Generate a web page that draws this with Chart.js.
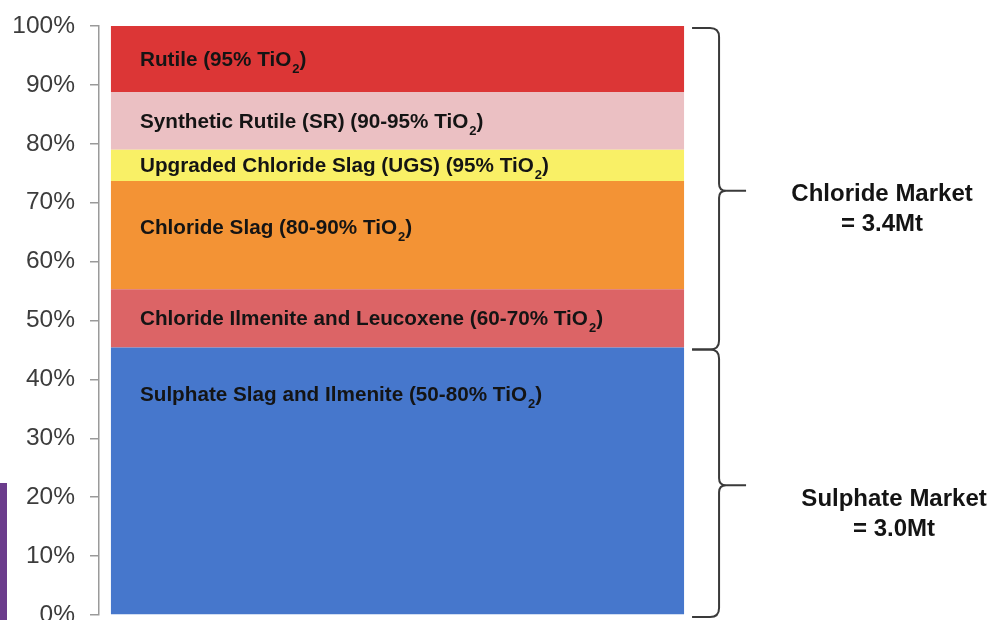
<!DOCTYPE html>
<html>
<head>
<meta charset="utf-8">
<script src="https://cdn.jsdelivr.net/npm/chart.js@4/dist/chart.umd.min.js"></script>
<style>
  html, body { margin: 0; padding: 0; background: #ffffff; }
  canvas { display: block; }
</style>
</head>
<body>
<canvas id="feedstock" width="1008" height="620"></canvas>
<script>
// TiO2 feedstock market split, stacked bottom to top (share of total, %)
const segmentNames = [
  'Sulphate Slag and Ilmenite',
  'Chloride Ilmenite and Leucoxene',
  'Chloride Slag',
  'Upgraded Chloride Slag (UGS)',
  'Synthetic Rutile (SR)',
  'Rutile'
];
const segmentGrades = ['50-80%', '60-70%', '80-90%', '95%', '90-95%', '95%'];
const segmentShares = [45.4, 9.9, 18.4, 5.3, 9.8, 11.2];
const segmentColors = ['#4677cc', '#dc6466', '#f39335', '#f9f066', '#ebc0c3', '#dc3636'];

// Market groupings: which segments (by index) each bracket spans
const marketNames = ['Sulphate Market', 'Chloride Market'];
const marketTonnes = [3.0, 3.4];
const marketSegments = [[0, 0], [1, 5]];

const yTicks = [0, 10, 20, 30, 40, 50, 60, 70, 80, 90, 100];

const FONT = '"Liberation Sans", Arial, Helvetica, sans-serif';

// Per-market text placement beside its bracket
const marketTextStyle = [
  { dx: 210, dy: 16 },
  { dx: 198, dy: 6 }
];

const datasets = segmentShares.map((v, i) => ({
  label: segmentNames[i],
  data: [v],
  backgroundColor: segmentColors[i],
  borderWidth: 0,
  barPercentage: 0.96,
  categoryPercentage: 1.0
}));

// Labels inside each segment, with a subscripted "2" in TiO2
const segmentLabels = {
  id: 'segmentLabels',
  afterDatasetsDraw(chart) {
    const ctx = chart.ctx;
    ctx.save();
    ctx.fillStyle = '#141414';
    ctx.textAlign = 'left';
    ctx.textBaseline = 'alphabetic';
    segmentNames.forEach((name, i) => {
      const el = chart.getDatasetMeta(i).data[0];
      const top = Math.min(el.y, el.base);
      const bottom = Math.max(el.y, el.base);
      const mid = Math.min((top + bottom) / 2, top + 46);
      let x = el.x - el.width / 2 + 29;
      const base = mid + 7;
      const head = name + ' (' + segmentGrades[i] + ' TiO';
      ctx.font = 'bold 20.7px ' + FONT;
      ctx.fillText(head, x, base);
      x += ctx.measureText(head).width + 1;
      ctx.font = 'bold 13px ' + FONT;
      ctx.fillText('2', x, base + 7);
      x += ctx.measureText('2').width;
      ctx.font = 'bold 20.7px ' + FONT;
      ctx.fillText(')', x, base);
    });
    ctx.restore();
  }
};

// Curly brackets grouping the segments into markets, with totals
const marketBrackets = {
  id: 'marketBrackets',
  afterDraw(chart) {
    const ctx = chart.ctx;
    const y = chart.scales.y;
    const el0 = chart.getDatasetMeta(0).data[0];
    const barRight = el0.x + el0.width / 2;
    const x0 = barRight + 8;
    const xv = barRight + 35;
    const xTip = barRight + 62;
    const r = 9;
    const rt = 7;
    ctx.save();
    ctx.strokeStyle = '#3a3a3a';
    ctx.lineWidth = 2;
    marketNames.forEach((name, m) => {
      const [a, b] = marketSegments[m];
      let lo = 0;
      for (let k = 0; k < a; k++) lo += segmentShares[k];
      let hi = lo;
      for (let k = a; k <= b; k++) hi += segmentShares[k];
      const yTop = y.getPixelForValue(hi) + 2;
      const yBot = y.getPixelForValue(lo) + 2;
      const yMid = (yTop + yBot) / 2 + 2;
      ctx.beginPath();
      ctx.moveTo(x0, yTop);
      ctx.lineTo(xv - r, yTop);
      ctx.quadraticCurveTo(xv, yTop, xv, yTop + r);
      ctx.lineTo(xv, yMid - rt);
      ctx.quadraticCurveTo(xv, yMid, xv + rt, yMid);
      ctx.quadraticCurveTo(xv, yMid, xv, yMid + rt);
      ctx.lineTo(xv, yBot - r);
      ctx.quadraticCurveTo(xv, yBot, xv - r, yBot);
      ctx.lineTo(x0, yBot);
      ctx.moveTo(xv + rt, yMid);
      ctx.lineTo(xTip, yMid);
      ctx.stroke();

      const st = marketTextStyle[m];
      const cx = barRight + st.dx;
      const ty = (yTop + yBot) / 2 + st.dy;
      ctx.fillStyle = '#141414';
      ctx.font = 'bold 24px ' + FONT;
      ctx.textAlign = 'center';
      ctx.textBaseline = 'middle';
      ctx.fillText(name, cx, ty);
      ctx.fillText('= ' + marketTonnes[m].toFixed(1) + 'Mt', cx, ty + 30);
    });
    ctx.restore();
  }
};

// Purple accent strip at the lower left edge
const accentStrip = {
  id: 'accentStrip',
  beforeDraw(chart) {
    const ctx = chart.ctx;
    ctx.save();
    ctx.fillStyle = '#6b3c8c';
    ctx.fillRect(0, 483, 7, chart.height - 483);
    ctx.restore();
  }
};

new Chart(document.getElementById('feedstock'), {
  type: 'bar',
  data: { labels: [''], datasets },
  plugins: [accentStrip, segmentLabels, marketBrackets],
  options: {
    responsive: false,
    animation: false,
    layout: { padding: { top: 26, bottom: 5, left: 0, right: 312 } },
    plugins: { legend: { display: false }, tooltip: { enabled: false } },
    scales: {
      x: { display: false, stacked: true },
      y: {
        stacked: true,
        min: 0,
        max: 100,
        afterBuildTicks: (s) => { s.ticks = yTicks.map(v => ({ value: v })); },
        afterFit: (s) => { s.width = 99; s.paddingTop = 0; s.paddingBottom = 0; },
        ticks: {
          callback: (v) => v + '%',
          font: { family: FONT, size: 24.5 },
          color: '#3c3c3c',
          padding: 15
        },
        grid: {
          drawOnChartArea: false,
          drawTicks: true,
          tickLength: 9,
          color: '#9a9a9a',
          lineWidth: 1.5
        },
        border: { display: true, color: '#9a9a9a', width: 1.5 }
      }
    }
  }
});
</script>
</body>
</html>
